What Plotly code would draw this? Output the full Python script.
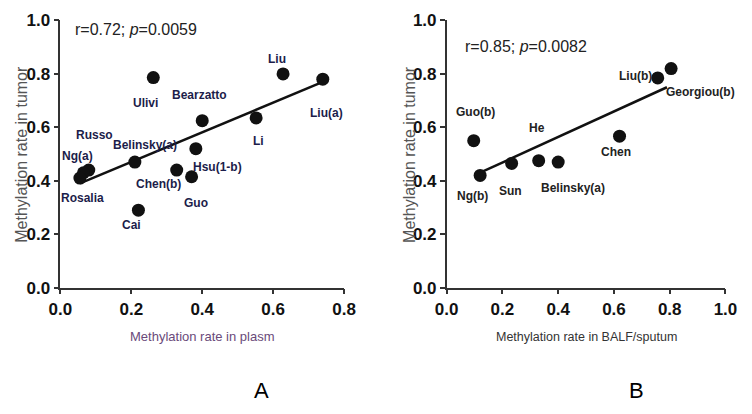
import plotly.graph_objects as go

# Panel A: plasma
A_study = ["Ulivi", "Liu", "Liu(a)", "Bearzatto", "Li", "Hsu(1-b)", "Belinsky(a)",
           "Chen(b)", "Guo", "Russo", "Ng(a)", "Rosalia", "Cai"]
A_x = [0.262, 0.628, 0.74, 0.40, 0.552, 0.382, 0.21, 0.328, 0.37, 0.08, 0.065, 0.055, 0.22]
A_y = [0.786, 0.80, 0.78, 0.625, 0.635, 0.52, 0.47, 0.44, 0.415, 0.44, 0.43, 0.41, 0.29]
A_fit_x = [0.055, 0.74]
A_fit_y = [0.39, 0.77]
A_stat = "r=0.72; <i>p</i>=0.0059"

# Panel B: BALF/sputum
B_study = ["Guo(b)", "Ng(b)", "Sun", "He", "Belinsky(a)", "Chen", "Liu(b)", "Georgiou(b)"]
B_x = [0.097, 0.12, 0.233, 0.33, 0.40, 0.62, 0.757, 0.805]
B_y = [0.55, 0.42, 0.465, 0.475, 0.47, 0.567, 0.785, 0.82]
B_fit_x = [0.12, 0.79]
B_fit_y = [0.43, 0.75]
B_stat = "r=0.85; <i>p</i>=0.0082"

ticks_y = [0.0, 0.2, 0.4, 0.6, 0.8, 1.0]
ticks_xA = [0.0, 0.2, 0.4, 0.6, 0.8]
ticks_xB = [0.0, 0.2, 0.4, 0.6, 0.8, 1.0]

# label pixel offsets (dx right, dy down)
A_off = [(-8, 25), (-6, -15), (4, 34), (-3, -26), (2, 23), (22, 18), (10, -17),
         (-18, 14), (4, 26), (6, -35), (-6, -17), (3, 20), (-7, 15)]
B_off = [(2, -29), (-8, 21), (-1, 28), (-2, -33), (15, 26), (-4, 16), (-22, -2), (29, 23)]

FONT = "Liberation Sans, Arial, sans-serif"

fig = go.Figure()
fig.add_trace(go.Scatter(x=A_fit_x, y=A_fit_y, mode="lines", line=dict(color="#111", width=2.5),
                         xaxis="x", yaxis="y", showlegend=False, hoverinfo="skip"))
fig.add_trace(go.Scatter(x=A_x, y=A_y, mode="markers", marker=dict(color="#111", size=13),
                         xaxis="x", yaxis="y", showlegend=False, text=A_study))
fig.add_trace(go.Scatter(x=B_fit_x, y=B_fit_y, mode="lines", line=dict(color="#111", width=2.5),
                         xaxis="x2", yaxis="y2", showlegend=False, hoverinfo="skip"))
fig.add_trace(go.Scatter(x=B_x, y=B_y, mode="markers", marker=dict(color="#111", size=13),
                         xaxis="x2", yaxis="y2", showlegend=False, text=B_study))

ann = []
for s, x, y, (dx, dy) in zip(A_study, A_x, A_y, A_off):
    ann.append(dict(x=x, y=y, xref="x", yref="y", text="<b>%s</b>" % s, showarrow=False,
                    xanchor="center", yanchor="middle",
                    xshift=dx, yshift=-dy, font=dict(family=FONT, size=12, color="#1c1d4a")))
for s, x, y, (dx, dy) in zip(B_study, B_x, B_y, B_off):
    ann.append(dict(x=x, y=y, xref="x2", yref="y2", text="<b>%s</b>" % s, showarrow=False,
                    xanchor="center", yanchor="middle",
                    xshift=dx, yshift=-dy, font=dict(family=FONT, size=12, color="#222")))


def paper_text(px, py, text, size, color, angle=0):
    return dict(x=px / 752, y=1 - py / 414, xref="paper", yref="paper", text=text, showarrow=False,
                xanchor="center", yanchor="middle", textangle=angle,
                font=dict(family=FONT, size=size, color=color))


ann += [
    paper_text(128, 22, A_stat, 16, "#222"),
    paper_text(531, 39, B_stat, 16, "#222"),
    paper_text(9, 152, "Methylation rate in tumor", 16, "#555", -90),
    paper_text(410, 152, "Methylation rate in tumor", 16, "#555", -90),
    paper_text(197, 343, "Methylation rate in plasm", 13, "#6a4a7a"),
    paper_text(593, 344, "Methylation rate in BALF/sputum", 12.5, "#333"),
    paper_text(258, 400, "A", 22, "#000"),
    paper_text(645, 400, "B", 22, "#000"),
]

axis_common = dict(showline=True, linecolor="#333", linewidth=1.5, ticks="outside", ticklen=5,
                   tickwidth=1.5, tickcolor="#333", showgrid=False, zeroline=False,
                   tickfont=dict(family=FONT, size=17, color="#111", weight="bold"),
                   tickformat=".1f")

ydom = [(414 - 292) / 414, (414 - 12) / 414]
fig.update_layout(
    width=752, height=414, margin=dict(l=0, r=0, t=0, b=0),
    paper_bgcolor="white", plot_bgcolor="white",
    xaxis=dict(domain=[50 / 752, 343 / 752], range=[0, 0.8], tickvals=ticks_xA, anchor="y", **axis_common),
    yaxis=dict(domain=ydom, range=[0, 1.0], tickvals=ticks_y, anchor="x", **axis_common),
    xaxis2=dict(domain=[449 / 752, 737 / 752], range=[0, 1.0], tickvals=ticks_xB, anchor="y2", **axis_common),
    yaxis2=dict(domain=ydom, range=[0, 1.0], tickvals=ticks_y, anchor="x2", **axis_common),
    annotations=ann,
)
fig.write_html(
    "out.html",
    config={"displayModeBar": False, "responsive": False},
    post_script=("document.body.style.margin='0';document.body.style.overflow='hidden';"
                 "document.documentElement.style.overflow='hidden';"),
)
